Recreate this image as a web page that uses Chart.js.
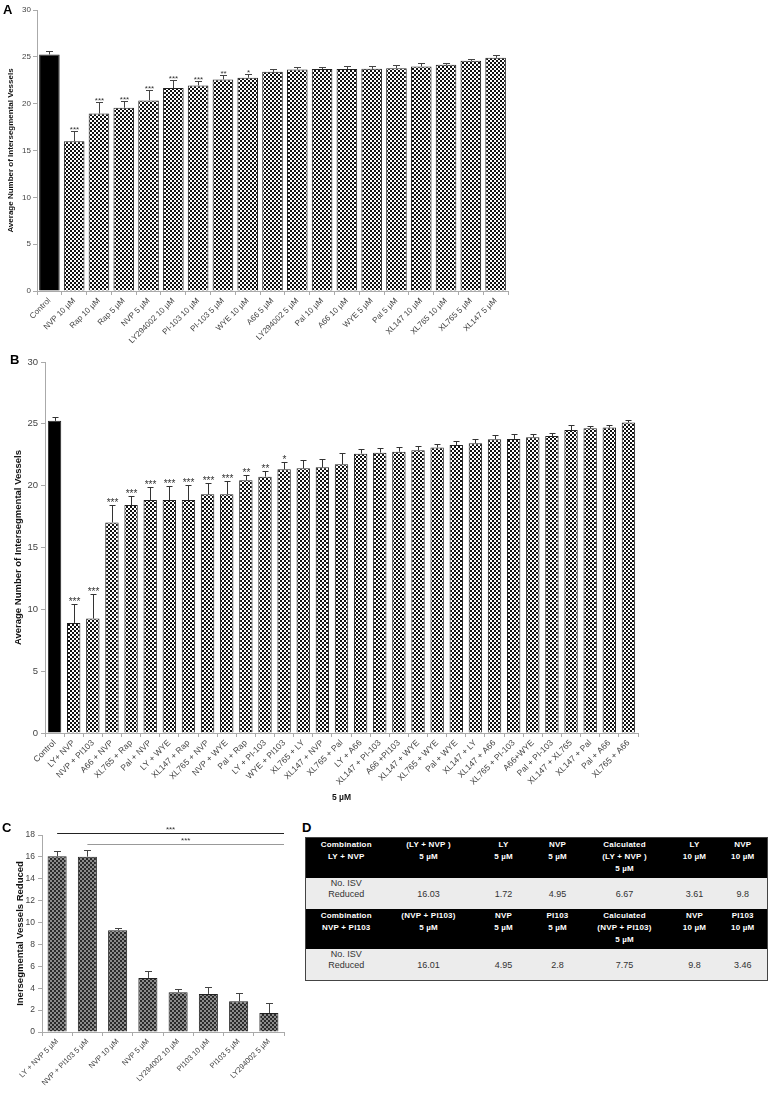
<!DOCTYPE html>
<html>
<head>
<meta charset="utf-8">
<script src="https://cdn.jsdelivr.net/npm/chart.js@4/dist/chart.umd.min.js"></script>
<style>
  body { margin: 0; background: #fff; }
  #page { position: relative; width: 772px; height: 1094px; overflow: hidden; font-family: 'Liberation Sans', Arial, sans-serif; }
  canvas { position: absolute; }
  .tag { position: absolute; font: bold 13px/13px 'Liberation Sans', Arial, sans-serif; color: #000; }
  #tblD { position: absolute; left: 305px; top: 837px; width: 462px; border-collapse: collapse; table-layout: fixed;
          border: 1px solid #444; }
  #tblD th { background: #000; color: #fff; font-weight: bold; font-size: 8px; line-height: 12px; letter-spacing: 0.2px;
             text-align: center; vertical-align: top; padding: 1px 0 0 0; height: 40px; box-sizing: border-box; }
  #tblD td { background: #ececec; color: #333; font-size: 9px; line-height: 11.5px; text-align: center;
             vertical-align: bottom; padding: 0 0 8px 0; height: 31px; box-sizing: border-box; }
</style>
</head>
<body>
<div id="page">
  <canvas id="chartA" width="520" height="350" style="left:0;top:0"></canvas>
  <canvas id="chartB" width="772" height="458" style="left:0;top:352px"></canvas>
  <canvas id="chartC" width="300" height="274" style="left:0;top:820px"></canvas>
  <div class="tag" style="left:3px;top:3px">A</div>
  <div class="tag" style="left:10px;top:353px">B</div>
  <div class="tag" style="left:2px;top:821px">C</div>
  <div class="tag" style="left:302px;top:821px">D</div>
  <table id="tblD"></table>
</div>
<script>
// panel A - single agents
const labelsA = ['Control', 'NVP 10 µM', 'Rap 10 µM', 'Rap 5 µM', 'NVP 5 µM', 'LY294002 10 µM', 'PI-103 10 µM',
                 'PI-103 5 µM', 'WYE 10 µM', 'A66 5 µM', 'LY294002 5 µM', 'Pal 10 µM', 'A66 10 µM', 'WYE 5 µM',
                 'Pal 5 µM', 'XL147 10 µM', 'XL765 10 µM', 'XL765 5 µM', 'XL147 5 µM']
const valuesA = [25.25, 16.0, 18.94, 19.57, 20.35, 21.67, 21.95, 22.59, 22.77, 23.4, 23.65, 23.69, 23.69, 23.72,
                 23.79, 23.97, 24.15, 24.57, 24.89]
const errorsA = [0.35, 1.03, 1.2, 0.75, 1.07, 0.85, 0.5, 0.42, 0.42, 0.29, 0.31, 0.25, 0.38, 0.32, 0.39, 0.32, 0.21, 0.25, 0.29]
const starsA  = ['', '***', '***', '***', '***', '***', '***', '**', '*', '', '', '', '', '', '', '', '', '', '']

// panel B - combinations at 5 µM
const labelsB = ['Control', 'LY+ NVP', 'NVP + PI103', 'A66 + NVP', 'XL765 + Rap', 'Pal + NVP', 'LY + WYE', 'XL147 + Rap',
                 'XL765 + NVP', 'NVP + WYE', 'Pal + Rap', 'LY + PI-103', 'WYE + PI103', 'XL765 + LY', 'XL147 + NVP',
                 'XL765 + Pal', 'LY + A66', 'XL147 + PI-103', 'A66 +PI103', 'XL147 + WYE', 'XL765 + WYE', 'Pal + WYE',
                 'XL147 + LY', 'XL147 + A66', 'XL765 + PI-103', 'A66+WYE', 'Pal + PI-103', 'XL147 + XL765',
                 'XL147 + Pal', 'Pal + A66', 'XL765 + A66']
const valuesB = [25.24, 8.9, 9.26, 17.03, 18.43, 18.84, 18.84, 18.84, 19.3, 19.3, 20.43, 20.73, 21.32, 21.4, 21.48,
                 21.73, 22.59, 22.67, 22.75, 22.86, 23.08, 23.29, 23.43, 23.75, 23.78, 23.91, 24.02, 24.5, 24.64, 24.7, 25.1]
const errorsB = [0.32, 1.5, 1.94, 1.4, 0.77, 1.03, 1.11, 1.19, 0.89, 1.05, 0.41, 0.46, 0.62, 0.65, 0.65, 0.89, 0.41,
                 0.38, 0.35, 0.32, 0.29, 0.3, 0.37, 0.33, 0.38, 0.3, 0.22, 0.39, 0.22, 0.2, 0.2]
const starsB  = ['', '***', '***', '***', '***', '***', '***', '***', '***', '***', '**', '**', '*']

// panel C - vessels reduced
const labelsC = ['LY + NVP 5 µM', 'NVP + PI103 5 µM', 'NVP 10 µM', 'NVP 5 µM', 'LY294002 10 µM', 'PI103 10 µM',
                 'PI103 5 µM', 'LY294002 5 µM']
const valuesC = [16.05, 16.02, 9.3, 4.94, 3.63, 3.48, 2.8, 1.74]
const errorsC = [0.52, 0.64, 0.18, 0.67, 0.27, 0.62, 0.74, 0.88]
const sigFromC  = [0, 1]
const sigStarsC = ['***', '***']

// panel D - table
const headD1 = [['Combination', 'LY + NVP'], ['(LY + NVP )', '5 µM'], ['LY', '5 µM'], ['NVP', '5 µM'],
                ['Calculated', '(LY + NVP )', '5 µM'], ['LY', '10 µM'], ['NVP', '10 µM']]
const rowD1  = [['No. ISV', 'Reduced'], ['16.03'], ['1.72'], ['4.95'], ['6.67'], ['3.61'], ['9.8']]
const headD2 = [['Combination', 'NVP + PI103'], ['(NVP + PI103)', '5 µM'], ['NVP', '5 µM'], ['PI103', '5 µM'],
                ['Calculated', '(NVP + PI103)', '5 µM'], ['NVP', '10 µM'], ['PI103', '10 µM']]
const rowD2  = [['No. ISV', 'Reduced'], ['16.01'], ['4.95'], ['2.8'], ['7.75'], ['9.8'], ['3.46']]
const colWidthsD = [81, 84, 66, 42, 92, 48, 49]

Chart.defaults.font.family = "'Liberation Sans', Arial, sans-serif"
const AXIS = '#aaaaaa'
const TICK = '#444444'

function checker(ctx, dark, light, size) {
    const c = document.createElement('canvas')
    c.width = c.height = size * 2
    const g = c.getContext('2d')
    g.fillStyle = light
    g.fillRect(0, 0, size * 2, size * 2)
    g.fillStyle = dark
    g.fillRect(0, 0, size, size)
    g.fillRect(size, size, size, size)
    return ctx.createPattern(c, 'repeat')
}

// upward error bars + significance stars
const errorBars = {
    id: 'errorBars',
    afterDatasetsDraw(chart, args, o) {
        const ctx = chart.ctx
        const y = chart.scales.y
        const vals = chart.data.datasets[0].data
        ctx.save()
        ctx.strokeStyle = o.color
        ctx.lineWidth = 1
        ctx.fillStyle = '#333'
        ctx.font = o.starSize + "px 'Liberation Sans', Arial, sans-serif"
        ctx.textAlign = 'center'
        ctx.textBaseline = 'alphabetic'
        chart.getDatasetMeta(0).data.forEach((bar, i) => {
            const top = Math.round(y.getPixelForValue(vals[i] + o.errors[i])) + 0.5
            const x = Math.round(bar.x) + 0.5
            ctx.beginPath()
            ctx.moveTo(x, bar.y)
            ctx.lineTo(x, top)
            ctx.moveTo(x - o.cap / 2, top)
            ctx.lineTo(x + o.cap / 2, top)
            ctx.stroke()
            if (o.stars && o.stars[i]) ctx.fillText(o.stars[i], x, top + 0.5)
        })
        ctx.restore()
    }
}

// bracket lines of panel C
const sigLines = {
    id: 'sigLines',
    afterDatasetsDraw(chart, args, o) {
        if (!o.from) return
        const ctx = chart.ctx
        const y = chart.scales.y
        const bars = chart.getDatasetMeta(0).data
        const right = chart.chartArea.right
        ctx.save()
        ctx.lineWidth = 1
        ctx.font = "8px 'Liberation Sans', Arial, sans-serif"
        ctx.textAlign = 'center'
        o.from.forEach((idx, k) => {
            const ly = Math.round(y.getPixelForValue(o.levels[k])) + 0.5
            const x0 = bars[idx].x
            ctx.strokeStyle = o.colors[k]
            ctx.beginPath()
            ctx.moveTo(x0, ly)
            ctx.lineTo(right, ly)
            ctx.stroke()
            ctx.fillStyle = '#333'
            ctx.fillText(o.stars[k], (x0 + right) / 2, ly - 2)
        })
        ctx.restore()
    }
}

function barChart(id, cfg) {
    const canvas = document.getElementById(id)
    const ctx = canvas.getContext('2d')
    const pat = checker(ctx, cfg.dark, cfg.light, 2)
    const fills = cfg.values.map((v, i) => (cfg.solidFirst && i === 0) ? '#000' : pat)

    return new Chart(canvas, {
        type: 'bar',
        data: {
            labels: cfg.labels,
            datasets: [{
                data: cfg.values,
                backgroundColor: fills,
                borderColor: cfg.border,
                borderWidth: 1,
                borderSkipped: 'bottom',
                categoryPercentage: 1,
                barPercentage: cfg.barPct
            }]
        },
        plugins: [errorBars, sigLines],
        options: {
            responsive: false,
            animation: false,
            devicePixelRatio: 1,
            layout: { padding: cfg.padding },
            plugins: {
                legend: { display: false },
                tooltip: { enabled: false },
                errorBars: { errors: cfg.errors, stars: cfg.stars, color: cfg.errColor, cap: cfg.cap, starSize: cfg.starSize },
                sigLines: cfg.sig || {}
            },
            scales: {
                x: {
                    border: { color: AXIS, width: 1 },
                    grid: { drawOnChartArea: false, color: AXIS, tickLength: 4, offset: true },
                    ticks: { autoSkip: false, minRotation: 45, maxRotation: 45, color: TICK,
                             font: { size: cfg.xTickSize }, padding: 1 },
                    title: cfg.xTitle ? { display: true, text: cfg.xTitle, color: '#111',
                             font: { size: 8.5, weight: 'bold' }, padding: { top: 0, bottom: 7 } } : { display: false },
                    afterFit: s => { s.height = cfg.xHeight }
                },
                y: {
                    min: 0, max: cfg.max,
                    border: { color: AXIS, width: 1 },
                    grid: { drawOnChartArea: false, color: AXIS, tickLength: 4 },
                    ticks: { stepSize: cfg.step, color: TICK, font: { size: cfg.yTickSize }, padding: cfg.yTickPad },
                    title: { display: true, text: cfg.yTitle, color: '#111',
                             font: { size: cfg.yTitleSize, weight: 'bold' }, padding: { top: cfg.yTitlePad, bottom: 0 } },
                    afterFit: s => { s.width = cfg.yWidth }
                }
            }
        }
    })
}

barChart('chartA', {
    labels: labelsA, values: valuesA, errors: errorsA, stars: starsA,
    solidFirst: true, dark: '#111', light: '#fff', border: '#222', barPct: 0.83,
    errColor: '#444', cap: 7, starSize: 8,
    padding: { top: 10, right: 12, left: 0, bottom: 0 },
    xHeight: 59, xTickSize: 8,
    max: 30, step: 5, yTickSize: 8, yTickPad: 2, yWidth: 37,
    yTitle: 'Average Number of Intersegmental Vessels', yTitleSize: 8, yTitlePad: 6
})

barChart('chartB', {
    labels: labelsB, values: valuesB, errors: errorsB, stars: starsB,
    solidFirst: true, dark: '#111', light: '#fff', border: '#222', barPct: 0.70,
    errColor: '#333', cap: 6, starSize: 10,
    padding: { top: 10, right: 134, left: 0, bottom: 0 },
    xHeight: 77, xTickSize: 8.5, xTitle: '5 µM',
    max: 30, step: 5, yTickSize: 9.5, yTickPad: 3, yWidth: 45,
    yTitle: 'Average Number of Intersegmental Vessels', yTitleSize: 9.5, yTitlePad: 13
})

barChart('chartC', {
    labels: labelsC, values: valuesC, errors: errorsC, stars: [],
    solidFirst: false, dark: '#2a2a2a', light: '#8c8c8c', border: '#222', barPct: 0.63,
    errColor: '#444', cap: 7, starSize: 8,
    padding: { top: 15, right: 16, left: 0, bottom: 0 },
    xHeight: 62, xTickSize: 7.5,
    max: 18, step: 2, yTickSize: 8.5, yTickPad: 3, yWidth: 42,
    yTitle: 'Inersegmental Vessels Reduced', yTitleSize: 9.5, yTitlePad: 15,
    sig: { from: sigFromC, stars: sigStarsC, levels: [18.18, 17.17], colors: ['#222', '#999'] }
})

// table D
const tbl = document.getElementById('tblD')
const cg = document.createElement('colgroup')
colWidthsD.forEach(w => {
    const col = document.createElement('col')
    col.style.width = w + 'px'
    cg.appendChild(col)
})
tbl.appendChild(cg)
function addRow(cells, tag) {
    const tr = document.createElement('tr')
    cells.forEach(lines => {
        const c = document.createElement(tag)
        c.innerHTML = lines.join('<br>')
        tr.appendChild(c)
    })
    tbl.appendChild(tr)
}
addRow(headD1, 'th')
addRow(rowD1, 'td')
addRow(headD2, 'th')
addRow(rowD2, 'td')
// first-column label cells sit at the top
tbl.querySelectorAll('tr').forEach(tr => {
    const first = tr.firstChild
    if (first.tagName === 'TD') { first.style.verticalAlign = 'top'; first.style.paddingTop = '0px' }
})
</script>
</body>
</html>
